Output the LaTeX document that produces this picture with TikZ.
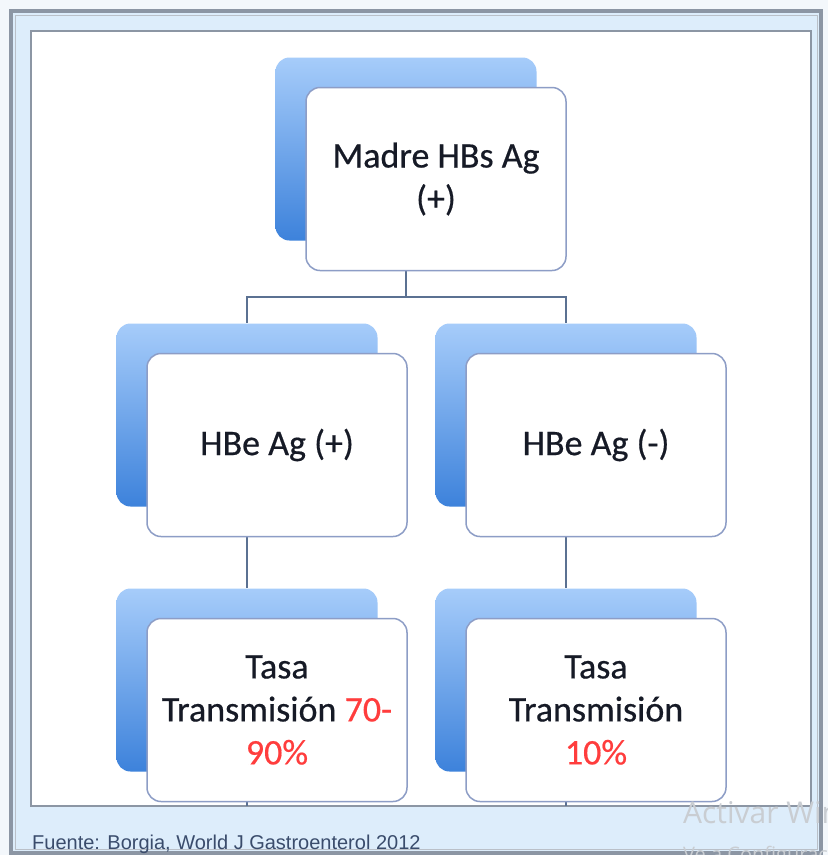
\documentclass[tikz,border=0pt]{standalone}
\usepackage{fontspec}
\setmainfont{Carlito}
\newfontfamily\boxfont{Carlito}[FakeBold=0.5]
\newfontfamily\srcfont{Liberation Sans}
\newfontfamily\wmfont{Open Sans}
\usetikzlibrary{backgrounds}
\definecolor{boxlight}{HTML}{A6CCFA}
\definecolor{boxdark}{HTML}{3D82DB}
\definecolor{boxedge}{HTML}{8D9DC6}
\definecolor{linkcol}{HTML}{5B7192}
\definecolor{framecol}{HTML}{DDEDFB}
\definecolor{framegray}{HTML}{8C96A4}
\definecolor{pagecol}{HTML}{F3F7FB}
\definecolor{txtred}{HTML}{FF3D3D}
\definecolor{txtdark}{HTML}{161A26}
\definecolor{srccol}{HTML}{3A4C6C}
\definecolor{wmcol}{HTML}{C9CDD2}
\begin{document}
\begin{tikzpicture}[x=1pt,y=-1pt,line join=round,line cap=round,
		backbox/.style={rounded corners=14pt,minimum width=261pt,minimum height=183pt,inner sep=0pt,top color=boxlight,bottom color=boxdark},
		frontbox/.style={draw=boxedge,line width=1.5pt,fill=white,rounded corners=14pt,minimum width=260pt,minimum height=183pt,inner sep=0pt,align=center,text=txtdark,font=\boxfont\fontsize{36}{43}\selectfont},
		link/.style={draw=linkcol,line width=2pt}]
				\useasboundingbox (0,0) rectangle (828,855);
				\clip (0,0) rectangle (828,855);
				% back boxes, then the white boxes over them
				\node[backbox] (madreback) at (406,149) {};
				\node[frontbox,xshift=30pt,yshift=-30pt] (madre) at (madreback) {Madre HBs Ag\\(+)};
				\node[backbox] (hbepback) at (247,415) {};
				\node[frontbox,xshift=30pt,yshift=-30pt] (hbep) at (hbepback) {HBe Ag (+)};
				\node[backbox] (hbenback) at (566,415) {};
				\node[frontbox,xshift=30pt,yshift=-30pt] (hben) at (hbenback) {HBe Ag (-)};
				\node[backbox] (tasapback) at (247,680) {};
				\node[frontbox,xshift=30pt,yshift=-30pt] (tasap) at (tasapback) {Tasa\\Transmisión \textcolor{txtred}{70-}\\\textcolor{txtred}{90\%}};
				\node[backbox] (tasanback) at (566,680) {};
				\node[frontbox,xshift=30pt,yshift=-30pt] (tasan) at (tasanback) {Tasa\\Transmisión\\\textcolor{txtred}{10\%}};
				% source line and screen watermark
				\node[anchor=base west,inner sep=0pt,text=srccol,font=\srcfont\fontsize{20}{24}\selectfont] (fuente) at (32,849) {Fuente: Borgia, World J Gastroenterol 2012};
				\node[anchor=base west,inner sep=0pt,text=wmcol,font=\wmfont\fontsize{30}{36}\selectfont] (wmtop) at (683,823) {Activar Windows};
				\node[anchor=base west,inner sep=0pt,text=wmcol,font=\wmfont\fontsize{20}{24}\selectfont] (wmbot) at (683,861) {Ve a Configuración para activar Windows.};
				\begin{scope}[on background layer]
				\fill[pagecol] (0,0) rectangle (828,855);
				\draw[framegray,line width=4pt,fill=framecol] (11,11) rectangle (821,853);
				\draw[framegray!60,line width=1pt] (15,15) rectangle (817,849);
				\draw[framegray,line width=1.5pt,fill=white] (31,31) rectangle (811,806);
				\coordinate (framebot) at (0,806);
				\draw[link] (madreback.south) -- ++(0,56) -| (hbepback.north);
				\draw[link] (madreback.south) ++(0,56) -| (hbenback.north);
				\draw[link] (hbepback.south) -- (tasapback.north);
				\draw[link] (hbenback.south) -- (tasanback.north);
				\draw[link] (tasapback.south) -- (tasapback.south |- framebot);
				\draw[link] (tasanback.south) -- (tasanback.south |- framebot);
				\end{scope}
			\end{tikzpicture}
\end{document}
